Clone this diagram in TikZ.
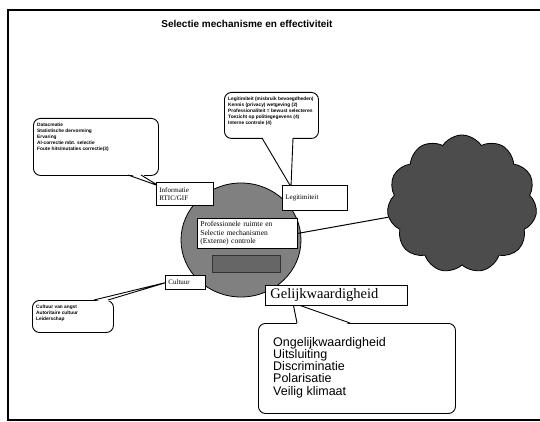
\documentclass[tikz,border=0pt]{standalone}
\usepackage{fontspec}
\setmainfont{Liberation Serif}
\setsansfont{Liberation Sans}
\usetikzlibrary{shapes.geometric,shapes.symbols}
\begin{document}
\begin{tikzpicture}[x=1pt,y=-1pt,
  frame/.style={line width=1.1pt},
  balloon/.style={draw, line width=0.9pt, rounded corners=7pt, fill=white, anchor=north west, inner sep=0pt},
  tinytext/.style={font=\sffamily\bfseries\fontsize{4.8}{6}\selectfont, align=left, anchor=north west, inner sep=0pt},
  tag/.style={draw, line width=0.8pt, fill=white, anchor=north west, inner xsep=3pt, inner ysep=0pt, align=left, font=\fontsize{7}{8}\selectfont},
  tail/.style={line width=0.9pt, line join=miter}
]
\useasboundingbox (0,0) rectangle (540,422);

% outer frame (open to the right)
\draw[frame] (540,10) -- (8,10) -- (8,420) -- (540,420);

% title
\node[font=\sffamily\bfseries\fontsize{10}{12}\selectfont] (title) at (247,24) {Selectie mechanisme en effectiviteit};

% central core and external cloud
\node[ellipse, draw, line width=0.8pt, fill=black!50, minimum width=120pt, minimum height=114pt, inner sep=0pt] (core) at (241,240) {};
\node[cloud, draw, line width=0.8pt, fill=black!70, cloud puffs=11, cloud puff arc=115, aspect=1.07, minimum width=150pt, minimum height=138pt, inner sep=0pt] (ext) at (462,204) {};

% boxes inside the core
\node[tag, minimum width=100pt, minimum height=30pt, text width=94pt, font=\fontsize{7.5}{8.6}\selectfont] (prof) at (197,218) {Professionele ruimte en\\Selectie mechanismen\\(Externe) controle};
\node[draw=black!80, line width=0.8pt, fill=black!60, anchor=north west, minimum width=68pt, minimum height=17pt, inner sep=0pt] (inner) at (212,255) {};

\draw[line width=1pt] (prof.east) -- (ext);

% callout: information sources
\node[balloon, minimum width=125pt, minimum height=57pt] (infoball) at (33,118) {};
\node[tinytext] (infotxt) at (37,123) {Datacreatie\\Statistische dervorming\\Ervaring\\Al-correctie mbt. selectie\\Foute hits/mutaties correctie(3)};
\coordinate (ia) at (128,175);
\coordinate (ib) at (141,175);
\coordinate (it) at (159,186);
\fill[white] ([yshift=1.5pt]ia) -- (it) -- ([yshift=1.5pt]ib) -- cycle;
\draw[tail] (ia) -- (it) -- (ib);

% callout: legitimacy
\node[balloon, minimum width=94pt, minimum height=46pt] (legball) at (224,92) {};
\node[tinytext] (legtxt) at (228,97) {Legitimiteit (misbruik bevoegdheden)\\Kennis (privacy) wetgeving (2)\\Professionaliteit = bewust selecteren\\Toezicht op politiegegevens (4)\\Interne controle (4)};
\coordinate (la) at (262,138);
\coordinate (lb) at (293,138);
\coordinate (lt) at (291,187);
\fill[white] ([yshift=1.5pt]la) -- (lt) -- ([yshift=1.5pt]lb) -- cycle;
\draw[tail] (la) -- (lt) -- (lb);

% callout: culture
\node[balloon, minimum width=81pt, minimum height=32pt] (culball) at (32,300) {};
\node[tinytext] (cultxt) at (36,305) {Cultuur van angst\\Autoritaire cultuur\\Leiderschap};
\coordinate (ca) at (94,300);
\coordinate (cb) at (108,300);
\coordinate (ct) at (168,282);
\fill[white] ([yshift=-1.5pt]ca) -- (ct) -- ([yshift=-1.5pt]cb) -- cycle;
\draw[tail] (ca) -- (ct) -- (cb);

% callout: equality
\node[balloon, minimum width=197pt, minimum height=90pt] (eqball) at (258,323) {};
\node[font=\sffamily\fontsize{12.5}{12.2}\selectfont, align=left, anchor=north west, inner sep=0pt] (eqtxt) at (273,337) {Ongelijkwaardigheid\\Uitsluiting\\Discriminatie\\Polarisatie\\Veilig klimaat};
\coordinate (ea) at (297,323);
\coordinate (eb) at (350,323);
\coordinate (et) at (293,303);
\fill[white] ([yshift=-1.5pt]ea) -- (et) -- ([yshift=-1.5pt]eb) -- cycle;
\draw[tail] (ea) -- (et) -- (eb);

% labels on the core
\node[tag, minimum width=57pt, minimum height=23pt, text width=51pt] (info) at (156,182) {Informatie\\RTIC/GIF};
\node[tag, minimum width=65pt, minimum height=25pt, text width=59pt] (legit) at (282,185) {Legitimiteit};
\node[tag, minimum width=40pt, minimum height=14pt, text width=34pt] (cult) at (165,275) {Cultuur};
\node[tag, minimum width=140pt, minimum height=20pt, text width=132pt, inner xsep=5pt, font=\fontsize{14.5}{15}\selectfont] (equal) at (265,285) {Gelijkwaardigheid};
\end{tikzpicture}
\end{document}
